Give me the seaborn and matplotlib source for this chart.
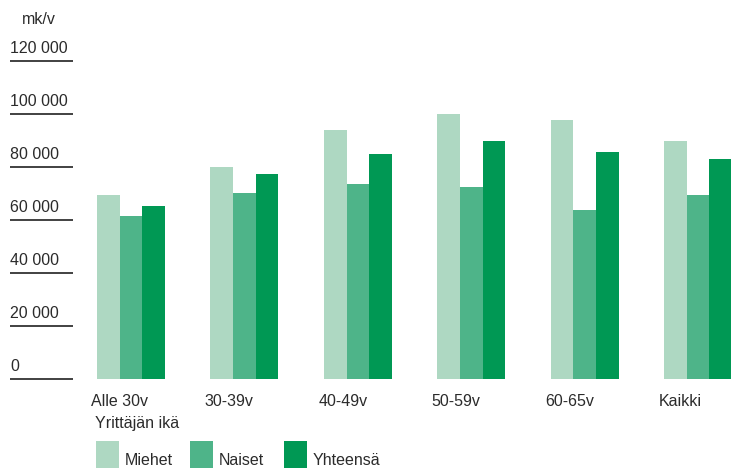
import pandas as pd
import seaborn as sns
import matplotlib.pyplot as plt
from matplotlib.patches import Rectangle
from matplotlib.transforms import offset_copy

# data (mk/v)
ages = ['Alle 30v', '30-39v', '40-49v', '50-59v', '60-65v', 'Kaikki']
miehet = [69400, 80000, 94000, 100000, 97700, 89800]
naiset = [61500, 70200, 73600, 72400, 63800, 69400]
yhteensa = [65300, 77400, 84900, 89800, 85700, 83000]
series = ['Miehet', 'Naiset', 'Yhteensä']
colors = ['#aed8c2', '#4eb489', '#009854']
yticks = [0, 20000, 40000, 60000, 80000, 100000, 120000]
ytick_labels = ['0', '20 000', '40 000', '60 000', '80 000', '100 000', '120 000']

df = pd.DataFrame({
    'ika': ages * 3,
    'sarja': [s for s in series for _ in ages],
    'arvo': miehet + naiset + yhteensa,
})

sns.set_style('white')
plt.rcParams['font.family'] = ['Liberation Sans', 'DejaVu Sans']
txt = '#2b2b2b'
fs = 11.5

W, H = 731, 468
fig = plt.figure(figsize=(W / 100, H / 100), dpi=100)
ax = fig.add_axes([0, 89 / H, 1, 318 / H])

sns.barplot(data=df, x='ika', y='arvo', hue='sarja', palette=colors,
            width=0.6, gap=0, saturation=1, linewidth=0, legend=False, ax=ax)
ax.set_xlim(-1.155, 5.29)
ax.set_ylim(0, 120000)
ax.axis('off')

# short tick lines + labels on the left
ytr = ax.get_yaxis_transform()
ax.hlines(yticks, 10 / W, 73 / W, transform=ytr, color='#333333', lw=1.3,
          clip_on=False)
lab_tr = offset_copy(ytr, fig=fig, y=8, units='dots')
for v, s in zip(yticks, ytick_labels):
    ax.text(10 / W, v, s, transform=lab_tr, ha='left', va='baseline',
            fontsize=fs, color=txt)
fig.text(22 / W, 1 - 24 / H, 'mk/v', ha='left', va='baseline',
         fontsize=fs, color=txt)

# category labels, left aligned under each group
xtr = offset_copy(ax.get_xaxis_transform(), fig=fig, y=-27, units='dots')
for i, a in enumerate(ages):
    ax.text(i - 0.35, 0, a, transform=xtr, ha='left', va='baseline',
            fontsize=fs, color=txt)
fig.text(95 / W, 1 - 428 / H, 'Yrittäjän ikä', ha='left', va='baseline',
         fontsize=fs, color=txt)

# legend
leg_x = [96, 190, 284]
for x0, s, c in zip(leg_x, series, colors):
    fig.add_artist(Rectangle((x0 / W, 0), 23 / W, 27 / H, color=c, lw=0,
                             transform=fig.transFigure))
    fig.text((x0 + 29) / W, 3 / H, s, ha='left', va='baseline',
             fontsize=fs, color=txt)

fig.savefig('out.png', dpi=100)
